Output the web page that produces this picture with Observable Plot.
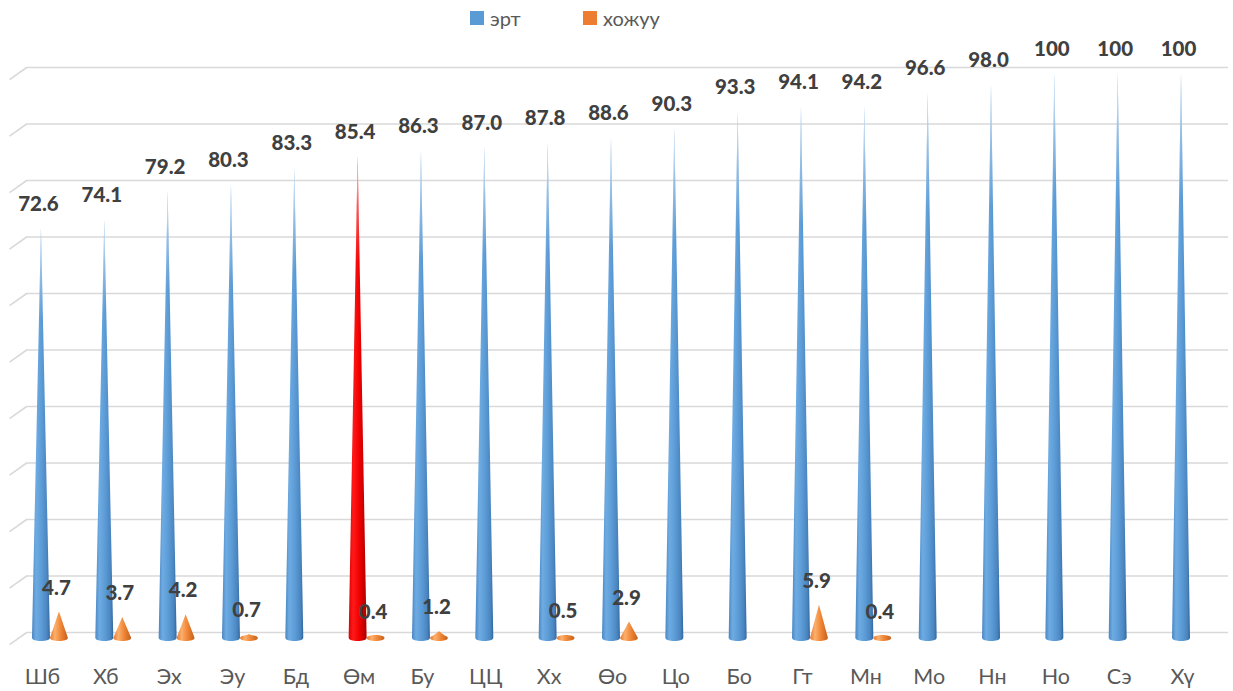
<!DOCTYPE html>
<html>
<head>
<meta charset="utf-8">
<script src="https://cdn.jsdelivr.net/npm/d3@7"></script>
<script src="https://cdn.jsdelivr.net/npm/@observablehq/plot@0.6"></script>
<style>
  html, body { margin: 0; padding: 0; background: #fff; }
  #legend { position: relative; height: 36px; width: 1233px; font-family: Lato, "Open Sans", sans-serif; font-size: 20px; color: #595959; }
  .item { position: absolute; top: 6px; display: flex; align-items: center; height: 24px; }
  .sw { width: 14px; height: 14px; margin-right: 6px; }
  #chart svg { display: block; }
</style>
</head>
<body>
<div id="legend"></div>
<div id="chart"></div>
<script>
const categories = ["Шб","Хб","Эх","Эу","Бд","Өм","Бу","ЦЦ","Хх","Өо","Цо","Бо","Гт","Мн","Мо","Нн","Но","Сэ","Хү"];
const ert   = [72.6, 74.1, 79.2, 80.3, 83.3, 85.4, 86.3, 87.0, 87.8, 88.6, 90.3, 93.3, 94.1, 94.2, 96.6, 98.0, 100, 100, 100];
const hojuu = [4.7, 3.7, 4.2, 0.7, 0, 0.4, 1.2, 0, 0.5, 2.9, 0, 0, 5.9, 0.4, 0, 0, 0, 0, 0];
const highlighted = "Өм";
const seriesNames = ["эрт", "хожуу"];
const seriesColors = ["#5b9bd5", "#ed7d31"];
const yTicks = d3.range(0, 101, 10);

// legend
const legend = document.getElementById("legend");
const legendLeft = [470, 583];
seriesNames.forEach((name, k) => {
  const it = document.createElement("div");
  it.className = "item";
  it.style.left = legendLeft[k] + "px";
  it.innerHTML = `<div class="sw" style="background:${seriesColors[k]}"></div><span>${name}</span>`;
  legend.appendChild(it);
});

// cone geometry (in scale units)
const HW = 0.142;      // half base width (band units)
const RY = 0.53;       // base ellipse vertical radius (value units)
const OFF = [-0.016, 0.268];
function conePoints(values, k, filterFn) {
  const pts = [];
  values.forEach((v, i) => {
    if (!(v > 0) || !filterFn(i)) return;
    const cx = i + OFF[k];
    const n = 24;
    for (let j = 0; j <= n; j++) {
      const t = -1 + 2 * j / n;
      const e = Math.sqrt(Math.max(0, 1 - t * t));
      pts.push({id: k + "-" + i, x: cx + t * HW, y1: -RY * e, y2: Math.max(v * (1 - Math.abs(t)), RY * e)});
    }
  });
  return pts;
}
const isHi = i => categories[i] === highlighted;
const blueCones = conePoints(ert, 0, i => !isHi(i));
const redCones = conePoints(ert, 0, isHi);
const orangeCones = conePoints(hojuu, 1, () => true);

const ertLabels = ert.map((v, i) => ({i, v, t: v === 100 ? "100" : v.toFixed(1)}));
const hojuuLabels = hojuu.map((v, i) => ({i, v, t: v.toFixed(1)})).filter(d => d.v > 0);

const plot = Plot.plot({
  width: 1233,
  height: 655,
  marginLeft: 26,
  marginRight: 5,
  marginTop: 0,
  marginBottom: 40,
  style: {fontFamily: "Lato, 'Open Sans', sans-serif", background: "#fff"},
  x: {domain: [-0.5, categories.length - 0.5], range: [10.3, 1213.7], axis: null},
  y: {domain: [0, 100], range: [602, 37], axis: null},
  marks: [
    Plot.ruleY(yTicks, {dy: -6, stroke: "#d9d9d9", strokeWidth: 1.6}),
    Plot.link(yTicks, {x1: -0.52, x2: -0.25, y1: d => d - 2.15, y2: d => d, dy: -6, stroke: "#d9d9d9", strokeWidth: 1.6}),
    Plot.areaY(blueCones, {x: "x", y1: "y1", y2: "y2", z: "id", fill: "url(#gBlue)", curve: "linear"}),
    Plot.areaY(redCones, {x: "x", y1: "y1", y2: "y2", z: "id", fill: "url(#gRed)", curve: "linear"}),
    Plot.areaY(blueCones.concat(redCones), {x: "x", y1: "y1", y2: "y2", z: "id", fill: "url(#gFade)", curve: "linear"}),
    Plot.areaY(orangeCones, {x: "x", y1: "y1", y2: "y2", z: "id", fill: "url(#gOrange)", curve: "linear"}),
    Plot.text(ertLabels, {x: d => d.i + OFF[0], y: "v", text: "t", dy: -24, dx: -3, fontSize: 20.5, fontWeight: 900, fill: "#404040"}),
    Plot.text(hojuuLabels, {x: d => d.i + OFF[1], y: "v", text: "t", dy: -24, dx: -3, fontSize: 20.5, fontWeight: 900, fill: "#404040"}),
    Plot.axisX(d3.range(categories.length), {tickFormat: i => categories[i], tickSize: 0, tickPadding: 17, fontSize: 21.5, color: "#595959", label: null})
  ]
});

// gradient definitions
const ns = "http://www.w3.org/2000/svg";
const defs = document.createElementNS(ns, "defs");
function grad(id, stops, vertical) {
  const g = document.createElementNS(ns, "linearGradient");
  g.setAttribute("id", id);
  g.setAttribute("x1", "0"); g.setAttribute("y1", "0");
  g.setAttribute("x2", vertical ? "0" : "1"); g.setAttribute("y2", vertical ? "1" : "0");
  stops.forEach(([o, c, op]) => {
    const s = document.createElementNS(ns, "stop");
    s.setAttribute("offset", o);
    s.setAttribute("stop-color", c);
    s.setAttribute("stop-opacity", op == null ? 1 : op);
    g.appendChild(s);
  });
  defs.appendChild(g);
}
grad("gBlue", [["0%", "#4a86c2"], ["22%", "#6eabe3"], ["55%", "#5b9bd5"], ["85%", "#4a84bf"], ["100%", "#2f66a0"]]);
grad("gRed", [["0%", "#e00000"], ["25%", "#ff1a1a"], ["60%", "#f00000"], ["100%", "#a80000"]]);
grad("gOrange", [["0%", "#e8782c"], ["28%", "#fbb06e"], ["60%", "#f08636"], ["100%", "#c4601c"]]);
grad("gFade", [["0%", "#ffffff", 0.9], ["10%", "#ffffff", 0.35], ["22%", "#ffffff", 0]], true);
const svg = plot.tagName.toLowerCase() === "svg" ? plot : plot.querySelector("svg");
svg.insertBefore(defs, svg.firstChild);

document.getElementById("chart").appendChild(plot);
</script>
</body>
</html>
